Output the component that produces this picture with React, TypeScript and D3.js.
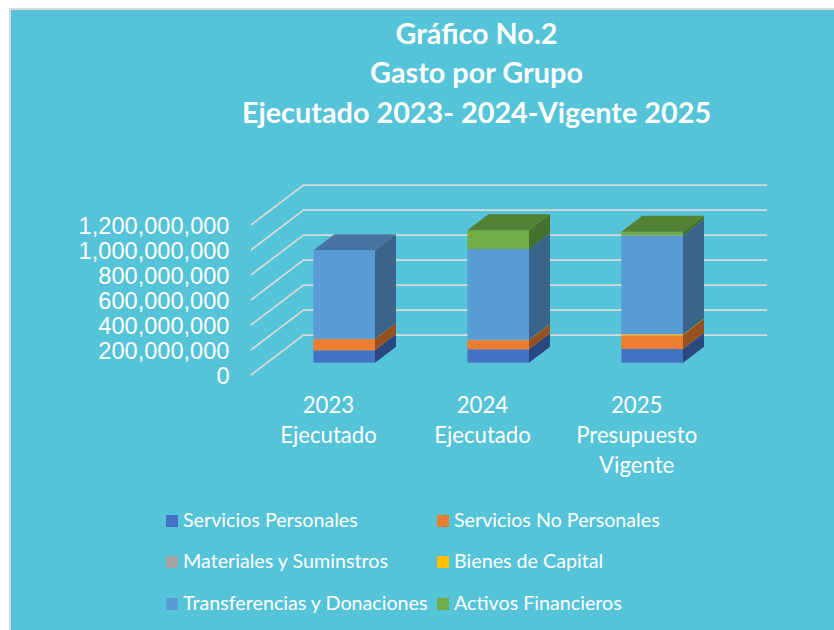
import React from "react";
import * as d3 from "d3";

const categories = [["2023", "Ejecutado"], ["2024", "Ejecutado"], ["2025", "Presupuesto", "Vigente"]];
const seriesNames = ["Servicios Personales", "Servicios No Personales", "Materiales y Suminstros", "Bienes de Capital", "Transferencias y Donaciones", "Activos Financieros"];
const serviciosPersonales = [99e6, 107e6, 110e6];
const serviciosNoPersonales = [90e6, 73e6, 109e6];
const materiales = [1e6, 1e6, 1e6];
const bienesCapital = [1e6, 3e6, 8e6];
const transferencias = [708e6, 726e6, 790e6];
const activosFinancieros = [0, 150e6, 29e6];
const seriesValues = [serviciosPersonales, serviciosNoPersonales, materiales, bienesCapital, transferencias, activosFinancieros];
const front = ["#4472c4", "#ed7d31", "#a5a5a5", "#ffc000", "#5b9bd5", "#70ad47"];
const side = ["#2b4880", "#97501f", "#6a6a6a", "#a37b00", "#3a6489", "#47702d"];
const topc = ["#335693", "#b25e25", "#7c7c7c", "#bf9000", "#44749f", "#548235"];
const ticks = [0, 200e6, 400e6, 600e6, 800e6, 1000e6, 1200e6];
const titleLines = ["Gráfico No.2", "Gasto por Grupo", "Ejecutado 2023- 2024-Vigente 2025"];

const FONT = "Lato, 'Noto Sans', sans-serif";
const y = d3.scaleLinear().domain([0, 1200e6]).range([375, 225]);
const x = d3.scaleBand().domain(["0", "1", "2"]).range([267.2, 729.2]).paddingInner(0.6).paddingOuter(0.3);
const BASE = 12.3;
const DX = 21, DY = 16;
const WALL_DX = 52.5, WALL_DY = 40;
const X_RIGHT = 767;

export default function App() {
  const barW = x.bandwidth();
  return (
    <svg width={834} height={630} style={{ position: "absolute", left: 0, top: 0, fontFamily: FONT }}>
      <rect x={0} y={0} width={834} height={630} fill="#fff" />
      <rect x={10} y={9} width={830} height={630} fill="#55c3d8" stroke="#d9d9d9" strokeWidth={2} />
      {titleLines.map((t, i) => (
        <text key={t} x={476.5} y={[43.5, 82.5, 122.5][i]} textAnchor="middle" fontSize={28.8} fontWeight={700} fill="#fff">{t}</text>
      ))}
      {ticks.map((t) => (
        <g key={t}>
          <polyline points={`${251},${y(t)} ${251 + WALL_DX},${y(t) - WALL_DY} ${X_RIGHT},${y(t) - WALL_DY}`} fill="none" stroke="#d9d9d9" strokeWidth={1.75} />
          <text x={229.5} y={y(t) + 8.5} textAnchor="end" fontSize={23.6} fontFamily="'Liberation Sans', Arial, sans-serif" fill="#fff">{d3.format(",")(t)}</text>
        </g>
      ))}
      {categories.map((c, i) => {
        let acc = 0;
        const x0 = x(String(i)) as number;
        return (
          <g key={i}>
            {seriesValues.map((s, k) => {
              const v = s[i];
              if (!v) { return null; }
              const y0 = y(acc) - BASE;
              acc += v;
              const y1 = y(acc) - BASE;
              const isTop = k === seriesValues.length - 1;
              return (
                <g key={k}>
                  <rect x={x0} y={y1} width={barW} height={y0 - y1} fill={front[k]} />
                  <path d={`M${x0 + barW},${y0}L${x0 + barW + DX},${y0 - DY}L${x0 + barW + DX},${y1 - DY}L${x0 + barW},${y1}Z`} fill={side[k]} />
                  {isTop ? <path d={`M${x0},${y1}L${x0 + DX},${y1 - DY}L${x0 + barW + DX},${y1 - DY}L${x0 + barW},${y1}Z`} fill={topc[k]} /> : null}
                </g>
              );
            })}
            {activosFinancieros[i] === 0 ? (() => {
              const yt = y(acc) - BASE;
              return <path d={`M${x0},${yt}L${x0 + DX},${yt - DY}L${x0 + barW + DX},${yt - DY}L${x0 + barW},${yt}Z`} fill={topc[4]} />;
            })() : null}
            {c.map((line, j) => (
              <text key={j} x={[328.5, 482.5, 636.7][i]} y={[413, 443, 472.5][j]} textAnchor="middle" fontSize={22.2} fill="#fff">{line}</text>
            ))}
          </g>
        );
      })}
      {seriesNames.map((n, i) => {
        const col = i % 2, row = Math.floor(i / 2);
        const lx = [166, 437][col];
        const ly = [515, 556, 598][row];
        return (
          <g key={n}>
            <rect x={lx} y={ly} width={12} height={12} fill={front[i]} />
            <text x={lx + 17} y={ly + 12} fontSize={19.7} fill="#fff">{n}</text>
          </g>
        );
      })}
    </svg>
  );
}
